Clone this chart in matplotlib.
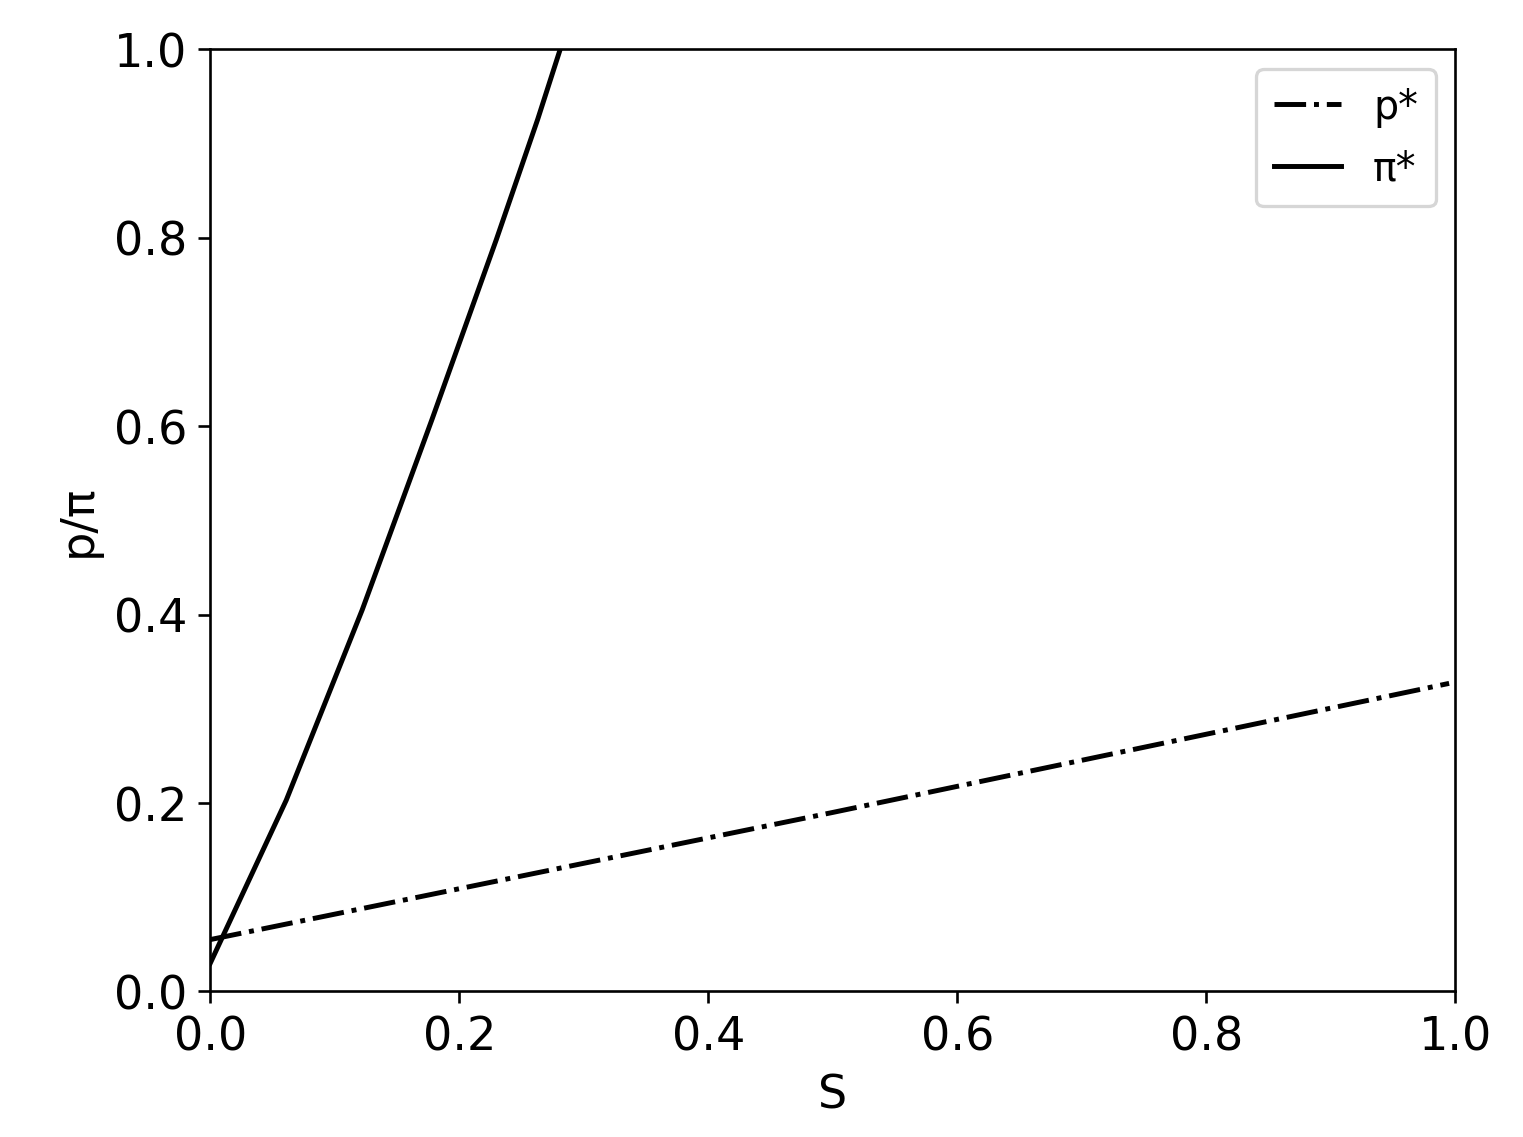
import numpy as np
import matplotlib
matplotlib.use('Agg')
from matplotlib import pyplot as plt

# values
s_p = [0.0, 0.5, 0.995]
p_star = [0.055, 0.19, 0.327]

s_pi = [0.0, 0.061, 0.122, 0.178, 0.2297, 0.263, 0.281]
pi_star = [0.03, 0.203, 0.405, 0.607, 0.798, 0.926, 1.0]

fig = plt.figure(figsize=(6.43, 4.8), dpi=237)
ax = fig.add_axes([0.138, 0.128, 0.817, 0.828])

ax.plot(s_p, p_star, color='black', linestyle='-.', label='p*')
ax.plot(s_pi, pi_star, color='black', linestyle='-', label='π*')

ax.set_xlim(0, 1)
ax.set_ylim(0, 1)
ax.set_xlabel('S', fontsize=14)
ax.set_ylabel('p/π', fontsize=14)
ax.tick_params(labelsize=14)
ax.legend(loc='upper right', fontsize=12, borderpad=0.45, labelspacing=0.55,
          handlelength=1.7, handletextpad=0.8)

plt.savefig('out.png', dpi=237)
